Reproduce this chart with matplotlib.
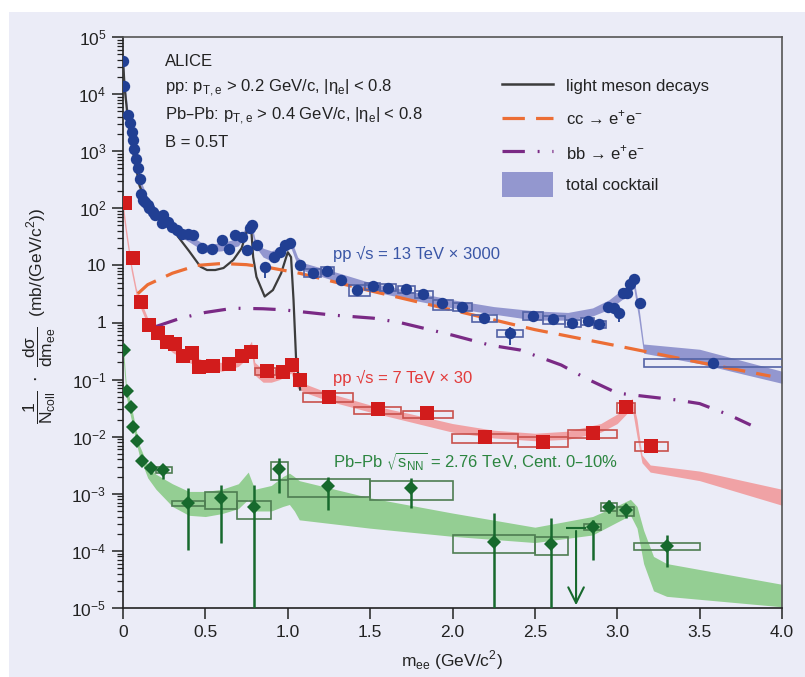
import numpy as np
import matplotlib
matplotlib.use('Agg')
import matplotlib.pyplot as plt
from matplotlib import font_manager
from matplotlib.patches import Rectangle
from matplotlib.lines import Line2D
from matplotlib.ticker import FixedLocator, LogLocator, NullFormatter, FuncFormatter

# ---- fonts ----
names = {f.name for f in font_manager.fontManager.ttflist}
NARROW = 'Liberation Sans Narrow' if 'Liberation Sans Narrow' in names else 'Liberation Sans'
plt.rcParams['font.family'] = ['Liberation Sans', 'DejaVu Sans']
NFAM = [NARROW, 'Liberation Sans', 'DejaVu Sans']

BG = '#EBECF7'
BLUE = '#213F93'
RED = '#D21C1C'
GREEN = '#17692D'

# ====================
# Data: pp 13 TeV x 3000 (blue circles)
# ====================
blue_x = [0.002, 0.006, 0.032, 0.042, 0.053, 0.059, 0.067, 0.079, 0.093, 0.103,
          0.107, 0.123, 0.134, 0.154, 0.160, 0.184, 0.194, 0.235, 0.245, 0.275,
          0.296, 0.326, 0.356, 0.396, 0.427, 0.478, 0.538, 0.599, 0.645, 0.680,
          0.720, 0.750, 0.770, 0.780, 0.815, 0.862, 0.917, 0.953, 0.983, 1.013,
          1.074, 1.151, 1.240, 1.321, 1.419, 1.516, 1.610, 1.718, 1.823, 1.934,
          2.056, 2.193, 2.349, 2.490, 2.612, 2.727, 2.820, 2.891, 2.942, 2.980,
          3.010, 3.033, 3.060, 3.080, 3.100, 3.138, 3.583]
blue_y = [3.85e4, 1.39e4, 4.3e3, 3.1e3, 2.2e3, 1.57e3, 1.08e3, 730, 500, 322,
          178, 140, 130, 114, 100, 87, 76, 55, 76, 58,
          48, 42, 36, 36, 34, 20, 19, 28, 19, 34,
          32, 18.6, 45, 51, 23, 9.3, 14, 17.4, 23, 25,
          10.2, 7.4, 8.1, 5.5, 3.7, 4.35, 4.07, 3.8, 3.15, 2.2,
          1.9, 1.21, 0.65, 1.3, 1.14, 0.97, 1.06, 0.94, 1.9, 1.77,
          1.45, 3.3, 3.3, 4.7, 5.7, 2.17, 0.198]
# visible statistical error bars
blue_eb_x = [0.478, 0.645, 0.862, 1.074, 1.419, 2.193, 2.349, 3.010]
blue_eb_lo = [16.6, 15.5, 5.9, 8.5, 3.2, 1.0, 0.41, 1.03]
blue_eb_hi = [23, 22, 11, 12, 4.2, 1.45, 0.85, 1.7]
# systematic boxes (x0, x1, y0, y1)
blue_boxes = [(1.10, 1.20, 6.3, 8.6), (1.20, 1.28, 7.0, 9.3), (1.37, 1.50, 2.96, 4.6),
              (1.47, 1.56, 3.7, 5.0), (1.56, 1.66, 3.5, 4.7), (1.67, 1.77, 3.3, 4.4),
              (1.77, 1.88, 2.7, 3.6), (1.88, 2.00, 1.65, 2.5), (2.00, 2.12, 1.6, 2.2),
              (2.12, 2.27, 1.02, 1.36), (2.27, 2.43, 0.55, 0.74), (2.43, 2.55, 1.1, 1.5),
              (2.55, 2.68, 0.96, 1.3), (2.68, 2.78, 0.83, 1.1), (2.78, 2.86, 0.9, 1.2),
              (2.86, 2.93, 0.8, 1.08), (3.16, 4.05, 0.166, 0.23)]
# total cocktail band
bx = [0.0, 0.01, 0.03, 0.06, 0.1, 0.15, 0.2, 0.3, 0.4, 0.5, 0.6, 0.7, 0.75, 0.78, 0.8,
      0.85, 0.9, 0.95, 1.0, 1.02, 1.04, 1.06, 1.1, 1.3, 1.5, 1.75, 2.0, 2.25, 2.5, 2.7,
      2.85, 2.95, 3.05, 3.1, 3.13, 3.16, 3.5, 4.0]
b_lo = [3.0e4, 1.1e4, 3.0e3, 9.0e2, 2.3e2, 1.0e2, 70, 38, 26, 17, 18, 22, 35, 40, 22,
        14, 12, 14, 19, 20, 14, 10, 8.0, 5.2, 3.6, 2.5, 1.8, 1.4, 1.1, 1.1,
        1.3, 1.7, 2.8, 4.0, 1.2, 0.29, 0.19, 0.086]
b_hi = [5.0e4, 1.7e4, 5.0e3, 1.4e3, 3.5e2, 1.5e2, 100, 50, 34, 23, 25, 30, 48, 55, 30,
        20, 18, 20, 27, 28, 20, 14, 11, 7.5, 5.0, 3.5, 2.5, 1.9, 1.6, 1.5,
        1.8, 2.5, 4.2, 6.0, 2.0, 0.42, 0.34, 0.14]

# ====================
# Data: pp 7 TeV x 30 (red squares)
# ====================
red_x = [0.012, 0.059, 0.109, 0.158, 0.214, 0.265, 0.316, 0.366, 0.417, 0.463,
         0.548, 0.643, 0.724, 0.775, 0.872, 0.969, 1.027, 1.074, 1.252, 1.55,
         1.843, 2.197, 2.551, 2.855, 3.053, 3.203]
red_y = [125, 13.3, 2.26, 0.9, 0.66, 0.46, 0.42, 0.26, 0.29, 0.164,
         0.173, 0.19, 0.26, 0.31, 0.14, 0.138, 0.18, 0.098, 0.05, 0.031,
         0.026, 0.0100, 0.0082, 0.0115, 0.033, 0.0069]
red_boxes = [(0.80, 0.93, 0.12, 0.16), (1.094, 1.398, 0.041, 0.0575), (1.40, 1.69, 0.025, 0.0335),
             (1.70, 2.00, 0.021, 0.0285), (1.995, 2.40, 0.0077, 0.0111), (2.40, 2.70, 0.0067, 0.0100),
             (2.70, 3.00, 0.0094, 0.0131), (3.00, 3.11, 0.026, 0.039), (3.11, 3.31, 0.0057, 0.0080)]
rx = [0.0, 0.02, 0.05, 0.08, 0.11, 0.15, 0.2, 0.3, 0.4, 0.5, 0.6, 0.7, 0.75, 0.78, 0.8,
      0.85, 0.9, 0.95, 1.0, 1.02, 1.04, 1.06, 1.1, 1.25, 1.5, 1.75, 2.0, 2.25, 2.5, 2.7,
      2.9, 3.0, 3.05, 3.09, 3.12, 3.15, 3.2, 3.5, 4.0]
r_lo = [80, 30, 8, 3.0, 1.7, 0.9, 0.55, 0.3, 0.2, 0.15, 0.14, 0.17, 0.23, 0.3, 0.12,
        0.09, 0.09, 0.1, 0.12, 0.13, 0.09, 0.07, 0.06, 0.042, 0.027, 0.018, 0.012, 0.0095, 0.0085, 0.009,
        0.012, 0.017, 0.024, 0.032, 0.01, 0.0035, 0.0024, 0.0017, 0.00063]
r_hi = [130, 45, 11, 4.0, 2.3, 1.2, 0.75, 0.42, 0.28, 0.21, 0.2, 0.25, 0.35, 0.47, 0.2,
        0.15, 0.15, 0.16, 0.19, 0.21, 0.14, 0.1, 0.085, 0.058, 0.036, 0.025, 0.017, 0.013, 0.0115, 0.0125,
        0.017, 0.025, 0.034, 0.047, 0.02, 0.0048, 0.0032, 0.0025, 0.0012]

# ====================
# Data: Pb-Pb 2.76 TeV, 0-10% (green diamonds)
# ====================
green_x = [0.006, 0.022, 0.047, 0.063, 0.087, 0.117, 0.17, 0.245, 0.393, 0.595,
           0.795, 0.949, 1.246, 1.746, 2.252, 2.598, 2.851, 2.952, 3.053, 3.304]
green_y = [0.33, 0.063, 0.033, 0.015, 0.0085, 0.0038, 0.0028, 0.0026, 7.0e-4, 8.3e-4,
           5.8e-4, 2.7e-3, 1.37e-3, 1.28e-3, 1.45e-4, 1.3e-4, 2.65e-4, 5.9e-4, 5.1e-4, 1.22e-4]
green_lo = [0.33, 0.063, 0.033, 0.015, 0.0085, 0.0038, 2.2e-3, 1.8e-3, 1.05e-4, 1.36e-4,
            1e-6, 1.02e-3, 5.1e-4, 5.6e-4, 1e-6, 1e-6, 6.9e-5, 4.6e-4, 3.8e-4, 5.3e-5]
green_hi = [0.33, 0.063, 0.033, 0.015, 0.0085, 0.0038, 3.4e-3, 3.1e-3, 1.26e-3, 1.43e-3,
            1.43e-3, 4.2e-3, 2.0e-3, 1.87e-3, 4.6e-4, 3.7e-4, 3.5e-4, 7.8e-4, 6.6e-4, 1.9e-4]
green_ul_x = 2.75
green_ul_y = 2.5e-4
green_boxes = [(0.20, 0.30, 2.29e-3, 2.9e-3), (0.30, 0.50, 6.2e-4, 7.6e-4), (0.50, 0.69, 5.4e-4, 1.07e-3),
               (0.69, 0.90, 3.6e-4, 7.6e-4), (0.90, 1.00, 1.74e-3, 3.6e-3), (1.00, 1.50, 8.7e-4, 1.8e-3),
               (1.50, 2.00, 7.8e-4, 1.67e-3), (2.00, 2.50, 9.1e-5, 1.9e-4), (2.50, 2.70, 8.5e-5, 1.78e-4),
               (2.80, 2.90, 2.33e-4, 3.0e-4), (2.90, 3.00, 4.9e-4, 7.0e-4), (3.00, 3.10, 4.1e-4, 5.8e-4),
               (3.10, 3.50, 1.04e-4, 1.39e-4)]
gx = [0.0, 0.02, 0.05, 0.08, 0.1, 0.15, 0.2, 0.3, 0.4, 0.5, 0.6, 0.7, 0.76, 0.8, 0.9,
      0.97, 1.01, 1.04, 1.07, 1.5, 2.0, 2.5, 2.85, 3.0, 3.08, 3.12, 3.16, 3.22, 3.3, 4.0]
g_lo = [0.25, 0.05, 0.02, 8e-3, 4.5e-3, 1.9e-3, 1.2e-3, 6e-4, 4.2e-4, 4.0e-4, 4.5e-4, 5.5e-4, 8e-4, 5e-4, 5e-4,
        6e-4, 6.5e-4, 5e-4, 3.5e-4, 2.5e-4, 1.8e-4, 1.4e-4, 1.9e-4, 3.2e-4, 4.2e-4, 2.5e-4, 6e-5, 2e-5, 1.6e-5, 1.05e-5]
g_hi = [0.45, 0.08, 0.035, 0.013, 7e-3, 3.2e-3, 2.2e-3, 1.5e-3, 1.1e-3, 1.1e-3, 1.2e-3, 1.5e-3, 2.4e-3, 1.2e-3, 1.4e-3,
        2.0e-3, 2.3e-3, 2.0e-3, 1.7e-3, 8.5e-4, 4.6e-4, 2.6e-4, 4.0e-4, 6.2e-4, 8e-4, 6e-4, 2.3e-4, 8e-5, 6e-5, 2.6e-5]

# ====================
# Cocktail components (pp 13 TeV scale)
# ====================
lm_x = [0.0, 0.01, 0.03, 0.06, 0.1, 0.15, 0.2, 0.25, 0.32, 0.4, 0.47, 0.51, 0.56, 0.61,
        0.67, 0.72, 0.76, 0.78, 0.79, 0.81, 0.86, 0.91, 0.96, 1.0, 1.02, 1.035, 1.05, 1.075]
lm_y = [4e4, 1.3e4, 3.5e3, 1.0e3, 250, 110, 75, 55, 36, 18, 9.5, 8.3, 8.3, 9.0,
        12.5, 20, 48, 37, 14, 6.3, 2.85, 3.7, 7.3, 17, 14, 2.5, 0.25, 0.067]
cc_x = [0.09, 0.15, 0.3, 0.45, 0.6, 0.75, 0.9, 1.07, 1.5, 2.0, 2.5, 3.0, 3.5, 3.93]
cc_y = [3.2, 4.6, 7.3, 10.0, 10.8, 10.3, 9.0, 7.3, 3.6, 1.65, 0.75, 0.39, 0.2, 0.115]
bb_x = [0.2, 0.35, 0.5, 0.67, 0.85, 0.97, 1.27, 1.52, 1.68, 2.0, 2.23, 2.41, 2.66, 2.81,
        3.0, 3.14, 3.36, 3.5, 3.68, 3.81]
bb_y = [0.85, 1.19, 1.5, 1.78, 1.74, 1.67, 1.35, 1.19, 1.0, 0.6, 0.40, 0.33, 0.18, 0.105,
        0.058, 0.052, 0.044, 0.038, 0.024, 0.016]

# ====================
# Figure
# ====================
fig = plt.figure(figsize=(8.05, 6.77), dpi=100, facecolor='white')
fig.patches.append(Rectangle((9 / 805, 0), 1 - 9 / 805, 1 - 12 / 677,
                             transform=fig.transFigure, facecolor=BG, edgecolor='none', zorder=-10))
ax = fig.add_axes([123 / 805, 1 - 608 / 677, 659 / 805, 571 / 677])
ax.set_facecolor(BG)

# bands
ax.fill_between(bx, b_lo, b_hi, color='#8A8ECB', alpha=0.9, lw=0, zorder=1)
ax.fill_between(rx, r_lo, r_hi, color='#F28A8A', alpha=0.75, lw=0, zorder=1)
ax.fill_between(gx, g_lo, g_hi, color='#8BCB88', alpha=0.9, lw=0, zorder=1)

# cocktail lines
ax.plot(lm_x, lm_y, color='#3C3C3C', lw=1.6, zorder=3)
ax.plot(cc_x, cc_y, color='#EC6E35', lw=2.3, dashes=(7, 3.5), zorder=3)
ax.plot(bb_x, bb_y, color='#7A2A85', lw=2.3, dashes=(7, 4, 0.6, 4), zorder=3)

# systematic boxes
for boxes, col in [(blue_boxes, '#5363A6'), (red_boxes, '#C9504C'), (green_boxes, '#4E7D52')]:
    for x0, x1, y0, y1 in boxes:
        ax.add_patch(Rectangle((x0, y0), x1 - x0, y1 - y0, facecolor='none',
                               edgecolor=col, lw=1.2, zorder=4, clip_on=True))

# data points
ax.vlines(blue_eb_x, blue_eb_lo, blue_eb_hi, color=BLUE, lw=1.3, zorder=5)
ax.plot(blue_x, blue_y, 'o', color=BLUE, ms=8.2, mew=0, zorder=6)
ax.plot(red_x, red_y, 's', color=RED, ms=9.5, mew=0, zorder=6)
ax.vlines(green_x, green_lo, green_hi, color=GREEN, lw=1.8, zorder=5)
ax.plot(green_x, green_y, 'D', color=GREEN, ms=7, mew=0, zorder=6)
ax.hlines(green_ul_y, green_ul_x - 0.06, green_ul_x + 0.06, color=GREEN, lw=1.5, zorder=5)
ax.annotate('', xy=(green_ul_x, 1.0e-5), xytext=(green_ul_x, green_ul_y),
            arrowprops=dict(arrowstyle='->', color=GREEN, lw=1.5, mutation_scale=28), zorder=5)

# axes
ax.set_xlim(0, 4.0)
ax.set_yscale('log')
ax.set_ylim(1e-5, 1e5)
ax.yaxis.set_major_locator(FixedLocator([10.0 ** k for k in range(-5, 6)]))
ax.yaxis.set_minor_locator(LogLocator(base=10, subs=np.arange(2, 10), numticks=100))
ax.yaxis.set_minor_formatter(NullFormatter())


def ylab(v, pos):
    k = int(round(np.log10(v)))
    if k == 0:
        return '1'
    if k == 1:
        return '10'
    return r'$\mathdefault{10^{%d}}$' % k


ax.yaxis.set_major_formatter(FuncFormatter(ylab))
ax.set_xticks([0, 0.5, 1.0, 1.5, 2.0, 2.5, 3.0, 3.5, 4.0])
ax.set_xticklabels(['0', '0.5', '1.0', '1.5', '2.0', '2.5', '3.0', '3.5', '4.0'])
ax.tick_params(which='major', direction='out', length=8, width=1.1, labelsize=12.5, colors='#222222', pad=4)
ax.tick_params(which='minor', direction='out', length=4, width=0.9, colors='#222222')
for s in ['left', 'bottom']:
    ax.spines[s].set_linewidth(1.2)
    ax.spines[s].set_color('#222222')
for s in ['top', 'right']:
    ax.spines[s].set_linewidth(1.2)
    ax.spines[s].set_color('#555555')


def axpos(px, py):
    return (px - 123) / 659, (608 - py) / 571


# header text
hdr = ['ALICE',
       r'pp: p$_{\mathdefault{T,e}}$ > 0.2 GeV/c, |η$_{\mathdefault{e}}$| < 0.8',
       r'Pb–Pb: p$_{\mathdefault{T,e}}$ > 0.4 GeV/c, |η$_{\mathdefault{e}}$| < 0.8',
       'B = 0.5T']
for t, py in zip(hdr, [66, 92, 119, 147]):
    ax.text(*axpos(165, py), t, transform=ax.transAxes, family=NFAM, fontsize=12,
            color='#222222', va='baseline', ha='left', zorder=8)

# legend (manual)
lx0, _ = axpos(502, 0)
lx1, _ = axpos(553, 0)
_, ly = axpos(0, 84)
ax.add_line(Line2D([lx0, lx1], [ly, ly], transform=ax.transAxes, color='#3C3C3C', lw=1.8))
_, ly = axpos(0, 118)
ax.add_line(Line2D([lx0, lx1], [ly, ly], transform=ax.transAxes, color='#EC6E35', lw=2.3, dashes=(7, 3.5)))
_, ly = axpos(0, 151)
ax.add_line(Line2D([lx0, lx1], [ly, ly], transform=ax.transAxes, color='#7A2A85', lw=2.3, dashes=(7, 4, 0.6, 4)))
_, ly0 = axpos(0, 197)
_, ly1 = axpos(0, 172)
ax.add_patch(Rectangle((lx0, ly0), lx1 - lx0, ly1 - ly0, transform=ax.transAxes,
                       facecolor='#8A8ECB', alpha=0.9, edgecolor='none'))
leg_txt = ['light meson decays', r'cc → e$^{\mathdefault{+}}$e$^{\mathdefault{-}}$',
           r'bb → e$^{\mathdefault{+}}$e$^{\mathdefault{-}}$', 'total cocktail']
for t, py in zip(leg_txt, [86, 118, 153, 185]):
    ax.text(*axpos(566, py), t, transform=ax.transAxes, family=NFAM, fontsize=12,
            color='#222222', va='center', ha='left')

# series labels
ax.text(*axpos(333, 259), 'pp √s = 13 TeV × 3000', transform=ax.transAxes, family=NFAM,
        fontsize=12, color='#3A56A6', va='baseline', zorder=8)
ax.text(*axpos(333, 383), 'pp √s = 7 TeV × 30', transform=ax.transAxes, family=NFAM,
        fontsize=12, color='#E23B3B', va='baseline', zorder=8)
ax.text(*axpos(333, 468), r'Pb–Pb $\sqrt{\mathdefault{s}_{\mathdefault{NN}}}$ = 2.76 TeV, Cent. 0–10%',
        transform=ax.transAxes, family=NFAM, fontsize=12, color='#2C8540', va='baseline', zorder=8)

# axis labels
fig.text(40 / 805, 1 - 316 / 677,
         r'$\dfrac{\mathdefault{1}}{\mathdefault{N}_{\mathdefault{coll}}}\ \cdot\ '
         r'\dfrac{\mathdefault{dσ}}{\mathdefault{dm}_{\mathdefault{ee}}}$  (mb/(GeV/c$^{\mathdefault{2}}$))',
         rotation=90, ha='center', va='center', family=NFAM, fontsize=12.5, color='#222222')
fig.text(452 / 805, 1 - 660 / 677, r'm$_{\mathdefault{ee}}$ (GeV/c$^{\mathdefault{2}}$)',
         ha='center', va='center', family=NFAM, fontsize=12.5, color='#222222')

fig.savefig('out.png', dpi=100, facecolor='white')
